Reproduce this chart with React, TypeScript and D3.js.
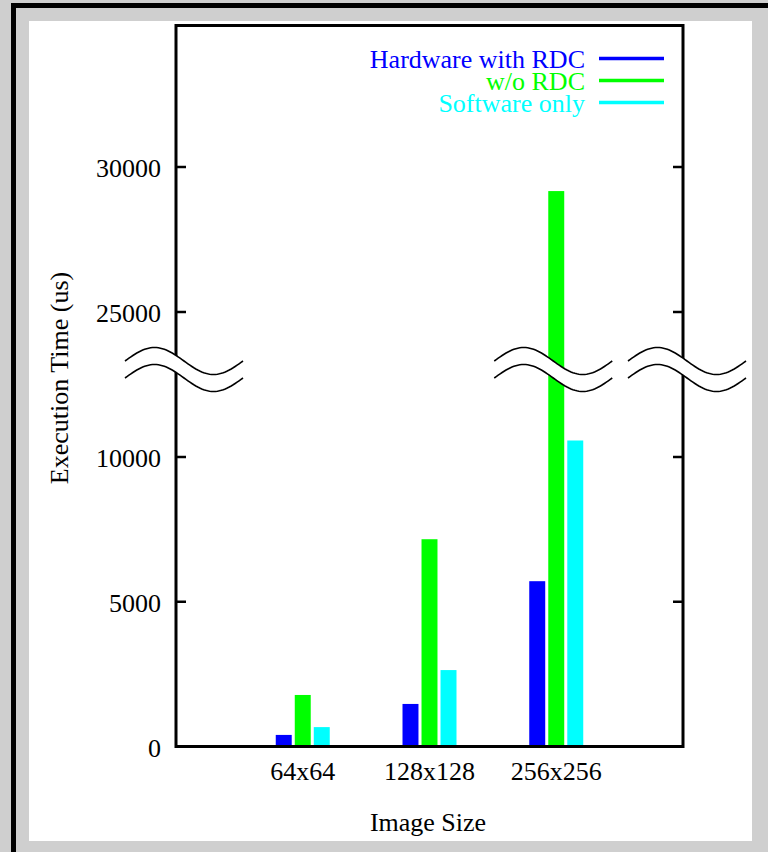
import React from "react";
import * as d3 from "d3";

const categories = ["64x64", "128x128", "256x256"];
const seriesNames = ["Hardware with RDC", "w/o RDC", "Software only"];
const hwWithRdc = [400, 1470, 5710];
const withoutRdc = [1780, 7160, 29170];
const softwareOnly = [670, 2640, 10570];
const yTicks = [0, 5000, 10000, 25000, 30000];
const colors = ["#0000ff", "#00ff00", "#00ffff"];

const W = 768;
const H = 852;
const left = 176;
const right = 683;
const top = 25.5;
const bottom = 746.5;

const x = d3.scaleLinear().domain([0, 4]).range([left, right]);
const yLow = d3.scaleLinear().domain([0, 10000]).range([bottom, 457]);
const yHigh = d3.scaleLinear().domain([25000, 30000]).range([312, 167]);
const BREAK = 12500;
const y = (v: number) => (v <= BREAK ? yLow(v) : yHigh(v));

const font = "'Liberation Serif', 'Times New Roman', serif";

function wave(x0: number, cy: number, w: number, amp: number) {
  const pts: [number, number][] = [];
  for (let i = 0; i <= 60; i++) {
    const t = i / 60;
    pts.push([x0 + t * w, cy - amp * Math.sin(2 * Math.PI * t)]);
  }
  return pts;
}

function BreakMark({ x0 }: { x0: number }) {
  const w = 118;
  const amp = 13.5;
  const up = wave(x0, 361, w, amp);
  const dn = wave(x0, 378, w, amp);
  const line = d3.line();
  const fill = line([...up, ...dn.slice().reverse()]) + "Z";
  return (
    <g>
      <path d={fill} fill="#fff" stroke="none" />
      <path d={line(up) || ""} fill="none" stroke="#000" strokeWidth={1.6} />
      <path d={line(dn) || ""} fill="none" stroke="#000" strokeWidth={1.6} />
    </g>
  );
}

export default function App() {
  const series = [hwWithRdc, withoutRdc, softwareOnly];
  const offsets = [-0.15, 0, 0.15];
  const bw = 0.126;
  return (
    <svg
      width={W}
      height={H}
      style={{ position: "absolute", left: 0, top: 0, display: "block" }}
      fontFamily={font}
    >
      <rect x={0} y={0} width={W} height={H} fill="#cfcfcf" />
      <rect x={11} y={3} width={W - 11} height={5} fill="#000" />
      <rect x={11} y={3} width={5} height={H - 3} fill="#000" />
      <rect x={29} y={21} width={723} height={820} fill="#fff" />

      {/* bars */}
      {series.map((vals, si) =>
        vals.map((v, ci) => {
          const cx = x(ci + 1 + offsets[si]);
          const x0 = cx - (x(bw) - x(0)) / 2;
          const wpx = x(bw) - x(0);
          return (
            <rect
              key={si + "-" + ci}
              x={x0}
              y={y(v)}
              width={wpx}
              height={bottom - y(v)}
              fill={colors[si]}
            />
          );
        })
      )}

      {/* frame */}
      <rect
        x={left}
        y={top}
        width={right - left}
        height={bottom - top}
        fill="none"
        stroke="#000"
        strokeWidth={3}
      />

      {/* ticks */}
      {yTicks.map((t) => (
        <g key={t}>
          {t !== 0 && (
            <>
              <line x1={left} x2={left + 10} y1={y(t)} y2={y(t)} stroke="#000" strokeWidth={2.5} />
              <line x1={right} x2={right - 10} y1={y(t)} y2={y(t)} stroke="#000" strokeWidth={2.5} />
            </>
          )}
          <text x={161} y={y(t) + 10} textAnchor="end" fontSize={26} fill="#000">
            {t}
          </text>
        </g>
      ))}

      {/* break marks */}
      <BreakMark x0={125} />
      <BreakMark x0={x(3) - 62} />
      <BreakMark x0={628} />

      {/* x labels */}
      {categories.map((c, i) => (
        <text key={c} x={x(i + 1)} y={780} textAnchor="middle" fontSize={26} fill="#000">
          {c}
        </text>
      ))}

      <text x={428} y={831} textAnchor="middle" fontSize={26} fill="#000">
        Image Size
      </text>
      <text
        transform="translate(68,378) rotate(-90)"
        textAnchor="middle"
        fontSize={26}
        fill="#000"
      >
        Execution Time (us)
      </text>

      {/* legend */}
      {seriesNames.map((n, i) => {
        const ly = 58.5 + i * 22;
        return (
          <g key={n}>
            <text x={585} y={ly + 9} textAnchor="end" fontSize={26} fill={colors[i]}>
              {n}
            </text>
            <line x1={599} x2={664} y1={ly} y2={ly} stroke={colors[i]} strokeWidth={3.5} />
          </g>
        );
      })}
    </svg>
  );
}
